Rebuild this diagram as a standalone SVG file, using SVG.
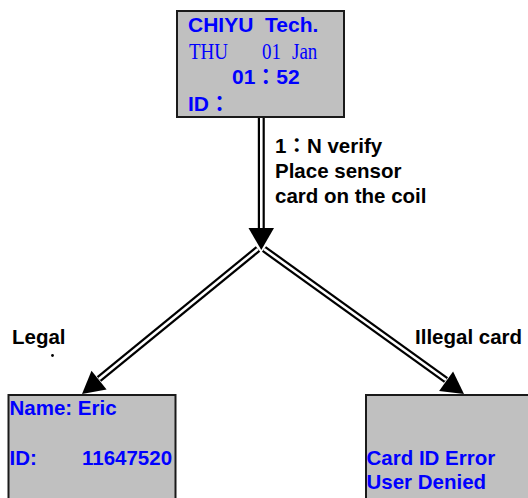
<svg xmlns="http://www.w3.org/2000/svg" width="528" height="498" viewBox="0 0 528 498">
<style>
.box{fill:#c0c0c0;stroke:#1a1a1a;stroke-width:2}
.bl{font-family:"Liberation Sans","Noto Sans CJK TC",Arial,sans-serif;font-weight:bold;font-size:20.5px;fill:#0000ff;white-space:pre}
.tm{font-family:"Liberation Serif","Times New Roman",serif;font-size:19px;fill:#0000ff}
.lb{font-family:"Liberation Sans","Noto Sans CJK TC",Arial,sans-serif;font-weight:bold;font-size:20.5px;fill:#000}
.outer{stroke:#000;stroke-width:7;fill:none}
.inner{stroke:#fff;stroke-width:2.6;fill:none}
.head{fill:#000}
</style>
<rect width="528" height="498" fill="#fff"/>
<g id="connectors">
  <line class="outer" x1="261.3" y1="117" x2="261.3" y2="230"/>
  <line class="inner" x1="261.3" y1="117" x2="261.3" y2="231"/>
  <polygon class="head" points="248.5,228 274,228 261.3,250"/>
  <line class="outer" x1="258" y1="249" x2="99" y2="379"/>
  <line class="inner" x1="258" y1="249" x2="99" y2="379"/>
  <polygon class="head" points="82,394 91.5,370.8 106.6,389.4"/>
  <line class="outer" x1="264" y1="249" x2="446" y2="380"/>
  <line class="inner" x1="264" y1="249" x2="446" y2="380"/>
  <polygon class="head" points="464,394 439.1,390.9 453.1,371.4"/>
</g>
<g id="label-verify">
  <text class="lb" x="275" y="153">1：N verify</text>
  <text class="lb" x="275" y="178">Place sensor</text>
  <text class="lb" x="275" y="203">card on the coil</text>
</g>
<g id="label-legal">
  <text class="lb" x="12" y="344">Legal</text>
  <circle cx="52.5" cy="355.5" r="1.4" fill="#000"/>
</g>
<g id="label-illegal">
  <text class="lb" x="415" y="344">Illegal card</text>
</g>
<g id="node-top">
  <rect class="box" x="177" y="11" width="167" height="106"/>
  <text class="bl" x="188" y="32" style="font-size:21px">CHIYU  Tech.</text>
  <text class="tm" transform="translate(189,58.5) scale(1,1.25)"><tspan x="0" y="0">THU</tspan><tspan x="73" y="0">01</tspan><tspan x="103" y="0">Jan</tspan></text>
  <text class="bl" x="232" y="84" style="font-size:21px">01：52</text>
  <text class="bl" x="188" y="111" style="font-size:21px">ID：</text>
</g>
<g id="node-legal">
  <rect class="box" x="8.5" y="395" width="167" height="120"/>
  <text class="bl" x="9.5" y="415">Name: Eric</text>
  <text class="bl" x="9.5" y="465">ID:</text>
  <text class="bl" x="82" y="465">11647520</text>
</g>
<g id="node-illegal">
  <rect class="box" x="366" y="395" width="172" height="120"/>
  <text class="bl" x="366.5" y="465">Card ID Error</text>
  <text class="bl" x="366.5" y="489">User Denied</text>
</g>
</svg>
